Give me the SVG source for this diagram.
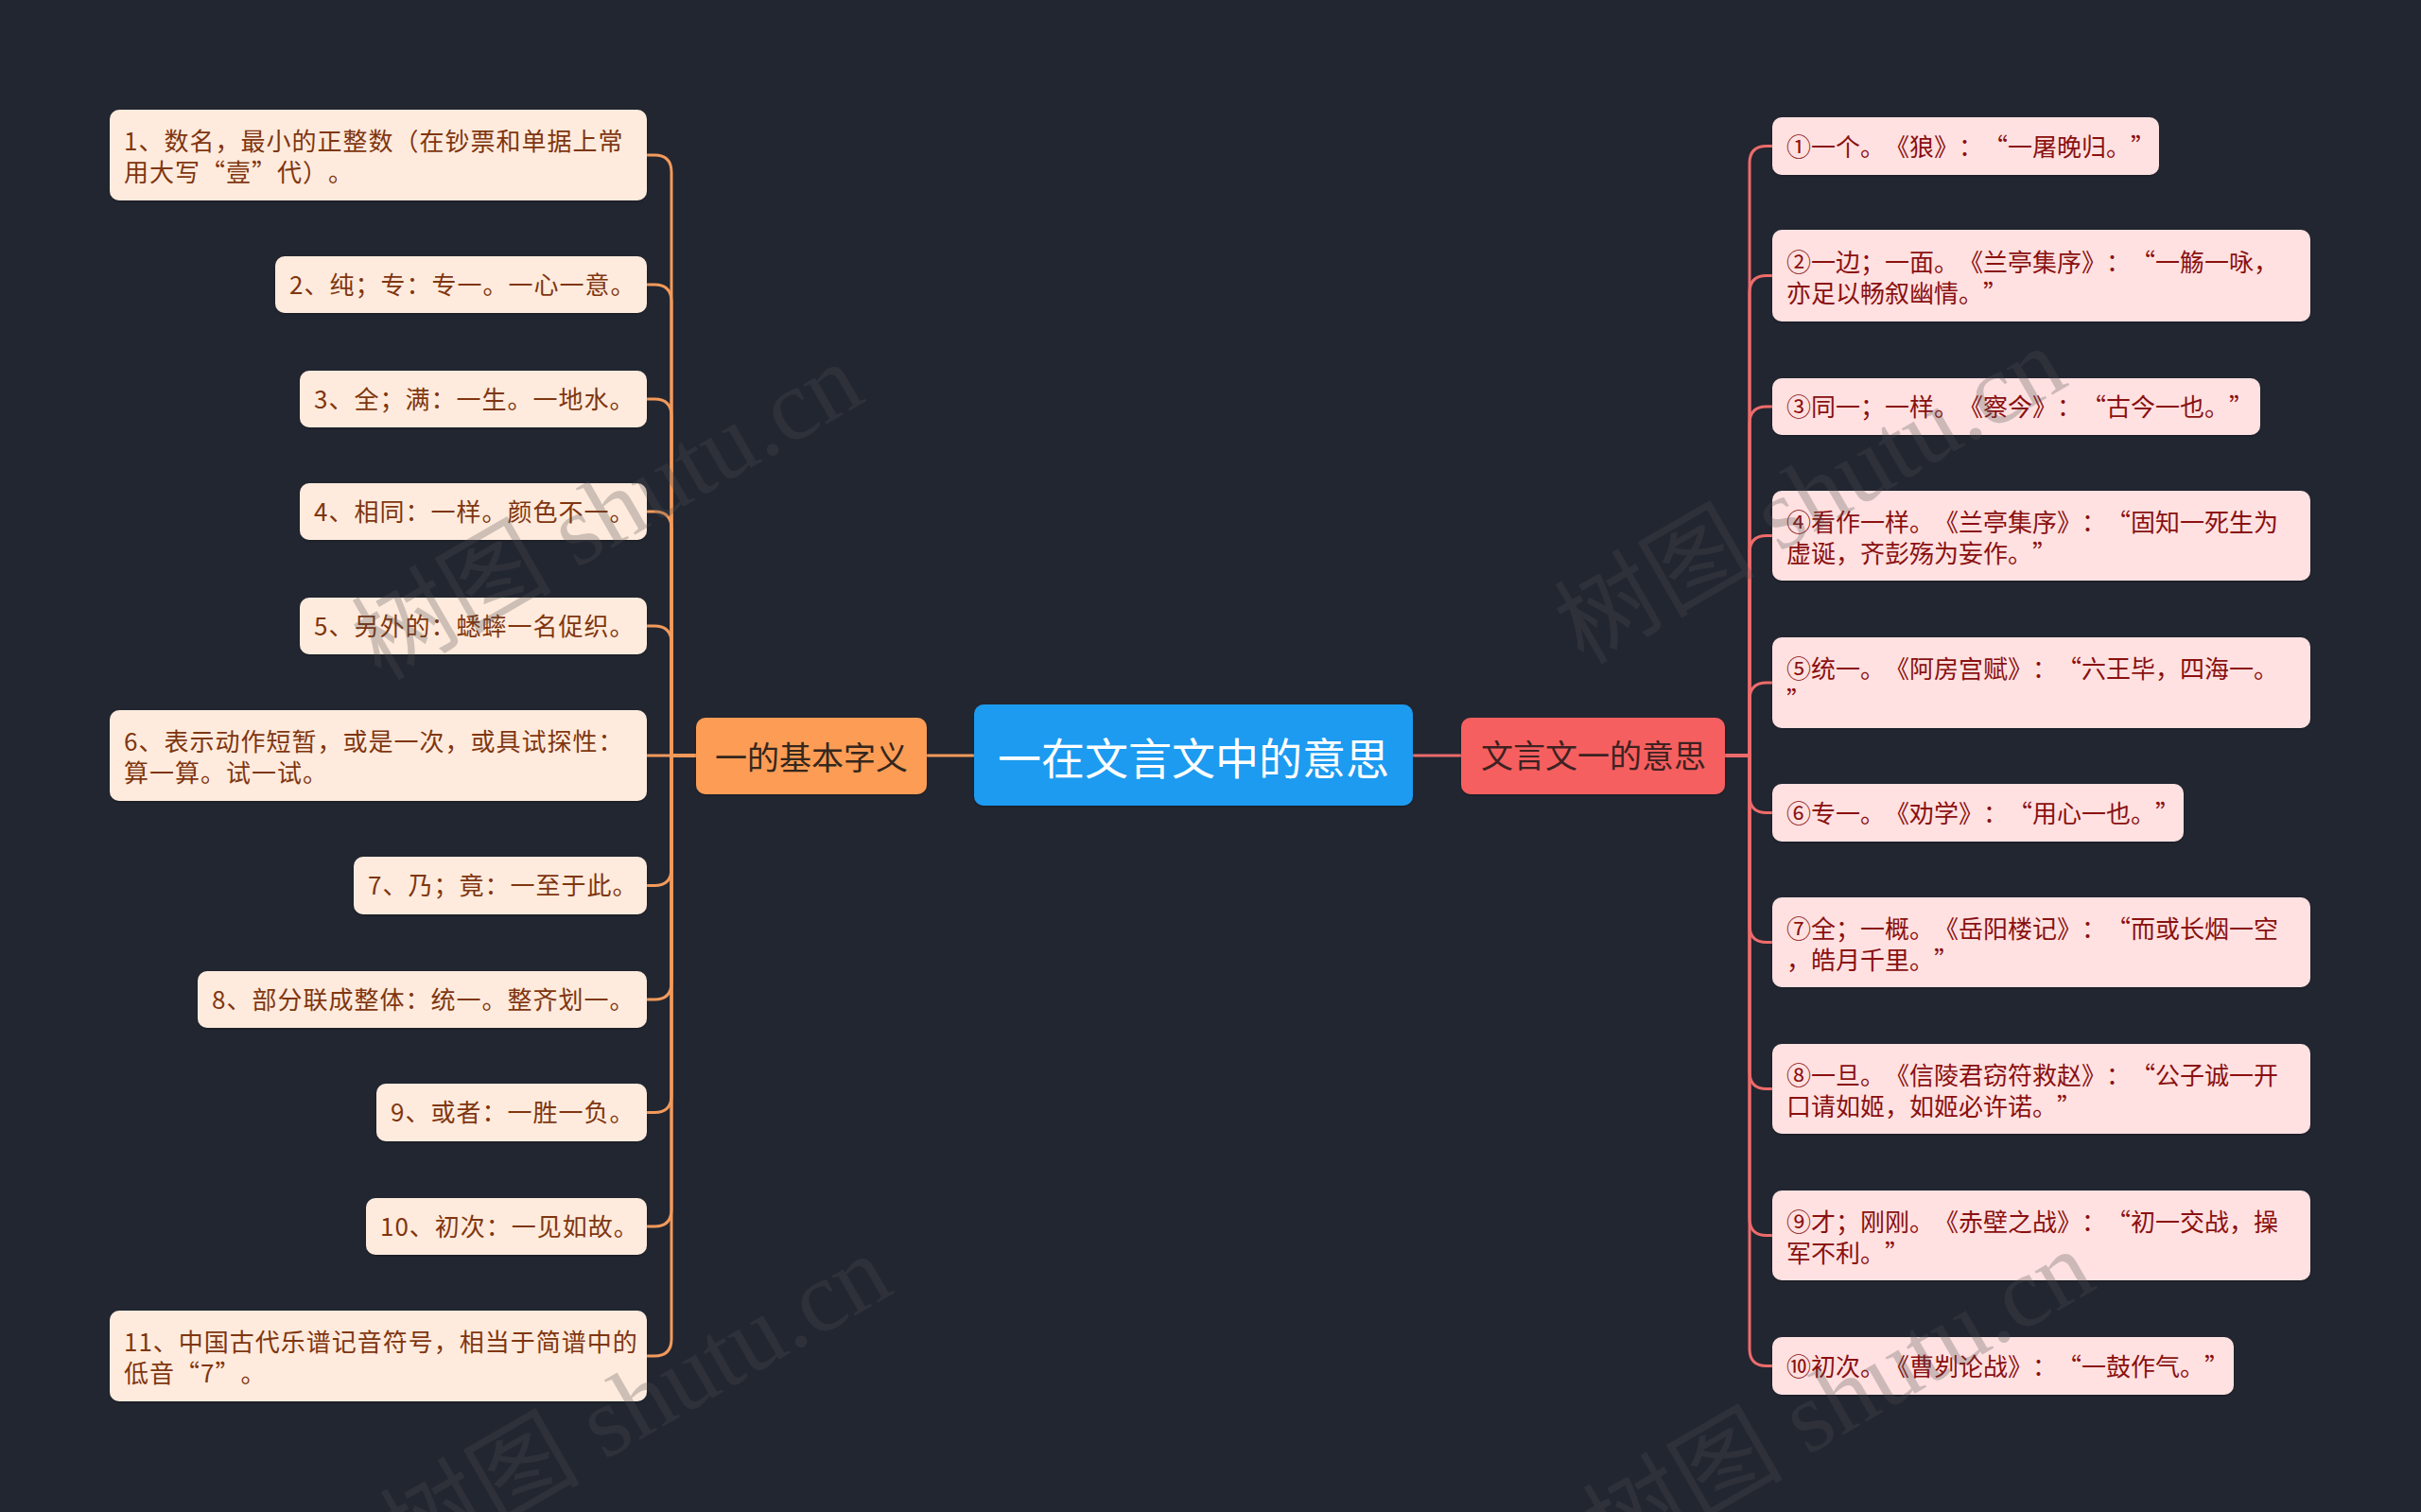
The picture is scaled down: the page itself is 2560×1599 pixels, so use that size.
<svg xmlns="http://www.w3.org/2000/svg" width="2560" height="1599" viewBox="0 0 2560 1599">
<style>
text{text-spacing-trim:space-all}
.lc{fill:#FFEBDD}
.rc{fill:#FFE1E1}
.t{font-family:"Noto Sans CJK SC","Noto Sans",sans-serif;font-size:26px}
.lt{fill:#7F3610;letter-spacing:1px}
.rt{fill:#8A1010;font-feature-settings:"fwid"}
.conL{fill:none;stroke:#F39A5B;stroke-width:3}
.conR{fill:none;stroke:#EE6B6B;stroke-width:3}
.wm{font-family:"Liberation Serif","Noto Sans CJK SC",serif;font-size:106px;fill:#505050;opacity:0.28}
</style>
<defs>
<filter id="sh" x="-5%" y="-10%" width="110%" height="130%">
<feDropShadow dx="0" dy="1" stdDeviation="1" flood-color="#000" flood-opacity="0.35"/>
</filter>
</defs>
<rect x="0" y="0" width="2560" height="1599" fill="#222631"/>
<g id="connectors">
<path class="conL" d="M980,799 H1030"/>
<path class="conR" d="M1494,799 H1545"/>
<path class="conL" d="M736,799 H710 V182 Q710,164 692,164 H684"/>
<path class="conL" d="M736,799 H710 V319 Q710,301 692,301 H684"/>
<path class="conL" d="M736,799 H710 V440 Q710,422 692,422 H684"/>
<path class="conL" d="M736,799 H710 V559 Q710,541 692,541 H684"/>
<path class="conL" d="M736,799 H710 V680 Q710,662 692,662 H684"/>
<path class="conL" d="M736,799 H684"/>
<path class="conL" d="M736,799 H710 V918.5 Q710,936.5 692,936.5 H684"/>
<path class="conL" d="M736,799 H710 V1039 Q710,1057 692,1057 H684"/>
<path class="conL" d="M736,799 H710 V1158.5 Q710,1176.5 692,1176.5 H684"/>
<path class="conL" d="M736,799 H710 V1279 Q710,1297 692,1297 H684"/>
<path class="conL" d="M736,799 H710 V1416 Q710,1434 692,1434 H684"/>
<path class="conR" d="M1824,799 H1850 V172.5 Q1850,154.5 1868,154.5 H1874"/>
<path class="conR" d="M1824,799 H1850 V309.5 Q1850,291.5 1868,291.5 H1874"/>
<path class="conR" d="M1824,799 H1850 V448 Q1850,430 1868,430 H1874"/>
<path class="conR" d="M1824,799 H1850 V584.5 Q1850,566.5 1868,566.5 H1874"/>
<path class="conR" d="M1824,799 H1850 V740 Q1850,722 1868,722 H1874"/>
<path class="conR" d="M1824,799 H1850 V841.5 Q1850,859.5 1868,859.5 H1874"/>
<path class="conR" d="M1824,799 H1850 V978.5 Q1850,996.5 1868,996.5 H1874"/>
<path class="conR" d="M1824,799 H1850 V1133.5 Q1850,1151.5 1868,1151.5 H1874"/>
<path class="conR" d="M1824,799 H1850 V1288.5 Q1850,1306.5 1868,1306.5 H1874"/>
<path class="conR" d="M1824,799 H1850 V1426.5 Q1850,1444.5 1868,1444.5 H1874"/>
</g>
<g id="root">
<rect x="1030" y="745" width="464" height="107" rx="10" fill="#1C9BF0" filter="url(#sh)"/>
<text x="1262" y="819" text-anchor="middle" font-family="Noto Sans CJK SC, sans-serif" font-size="46" fill="#FFFFFF">一在文言文中的意思</text>
</g>
<g id="branch-left">
<rect x="736" y="759" width="244" height="81" rx="10" fill="#FC9C54" filter="url(#sh)"/>
<text x="858" y="814" text-anchor="middle" font-family="Noto Sans CJK SC, sans-serif" font-size="34" fill="#35271D">一的基本字义</text>
</g>
<g id="branch-right">
<rect x="1545" y="759" width="279" height="81" rx="10" fill="#F65F5F" filter="url(#sh)"/>
<text x="1685" y="812" text-anchor="middle" font-family="Noto Sans CJK SC, sans-serif" font-size="34" fill="#3E2222">文言文一的意思</text>
</g>
<g id="l1"><rect class="lc" x="116" y="116" width="568" height="96" rx="10" filter="url(#sh)"/><text class="t lt" x="131" y="159">1、数名，最小的正整数（在钞票和单据上常</text><text class="t lt" x="131" y="192">用大写“壹”代）。</text></g>
<g id="l2"><rect class="lc" x="291" y="271" width="393" height="60" rx="10" filter="url(#sh)"/><text class="t lt" x="306" y="311">2、纯；专：专一。一心一意。</text></g>
<g id="l3"><rect class="lc" x="317" y="392" width="367" height="60" rx="10" filter="url(#sh)"/><text class="t lt" x="332" y="432">3、全；满：一生。一地水。</text></g>
<g id="l4"><rect class="lc" x="317" y="511" width="367" height="60" rx="10" filter="url(#sh)"/><text class="t lt" x="332" y="551">4、相同：一样。颜色不一。</text></g>
<g id="l5"><rect class="lc" x="317" y="632" width="367" height="60" rx="10" filter="url(#sh)"/><text class="t lt" x="332" y="672">5、另外的：蟋蟀一名促织。</text></g>
<g id="l6"><rect class="lc" x="116" y="751" width="568" height="96" rx="10" filter="url(#sh)"/><text class="t lt" x="131" y="794">6、表示动作短暂，或是一次，或具试探性：</text><text class="t lt" x="131" y="827">算一算。试一试。</text></g>
<g id="l7"><rect class="lc" x="374" y="906" width="310" height="61" rx="10" filter="url(#sh)"/><text class="t lt" x="389" y="946">7、乃；竟：一至于此。</text></g>
<g id="l8"><rect class="lc" x="209" y="1027" width="475" height="60" rx="10" filter="url(#sh)"/><text class="t lt" x="224" y="1067">8、部分联成整体：统一。整齐划一。</text></g>
<g id="l9"><rect class="lc" x="398" y="1146" width="286" height="61" rx="10" filter="url(#sh)"/><text class="t lt" x="413" y="1186">9、或者：一胜一负。</text></g>
<g id="l10"><rect class="lc" x="387" y="1267" width="297" height="60" rx="10" filter="url(#sh)"/><text class="t lt" x="402" y="1307">10、初次：一见如故。</text></g>
<g id="l11"><rect class="lc" x="116" y="1386" width="568" height="96" rx="10" filter="url(#sh)"/><text class="t lt" x="131" y="1429">11、中国古代乐谱记音符号，相当于简谱中的</text><text class="t lt" x="131" y="1462">低音“7”。</text></g>
<g id="r1"><rect class="rc" x="1874" y="124" width="409" height="61" rx="10" filter="url(#sh)"/><text class="t rt" x="1889" y="164.5">①一个。《狼》：“一屠晚归。”</text></g>
<g id="r2"><rect class="rc" x="1874" y="243" width="569" height="97" rx="10" filter="url(#sh)"/><text class="t rt" x="1889" y="286.5">②一边；一面。《兰亭集序》：“一觞一咏，</text><text class="t rt" x="1889" y="319.5">亦足以畅叙幽情。”</text></g>
<g id="r3"><rect class="rc" x="1874" y="400" width="516" height="60" rx="10" filter="url(#sh)"/><text class="t rt" x="1889" y="440">③同一；一样。《察今》：“古今一也。”</text></g>
<g id="r4"><rect class="rc" x="1874" y="519" width="569" height="95" rx="10" filter="url(#sh)"/><text class="t rt" x="1889" y="561.5">④看作一样。《兰亭集序》：“固知一死生为</text><text class="t rt" x="1889" y="594.5">虚诞，齐彭殇为妄作。”</text></g>
<g id="r5"><rect class="rc" x="1874" y="674" width="569" height="96" rx="10" filter="url(#sh)"/><text class="t rt" x="1889" y="717">⑤统一。《阿房宫赋》：“六王毕，四海一。</text><text class="t rt" x="1889" y="750">”</text></g>
<g id="r6"><rect class="rc" x="1874" y="829" width="435" height="61" rx="10" filter="url(#sh)"/><text class="t rt" x="1889" y="869.5">⑥专一。《劝学》：“用心一也。”</text></g>
<g id="r7"><rect class="rc" x="1874" y="949" width="569" height="95" rx="10" filter="url(#sh)"/><text class="t rt" x="1889" y="991.5">⑦全；一概。《岳阳楼记》：“而或长烟一空</text><text class="t rt" x="1889" y="1024.5">，皓月千里。”</text></g>
<g id="r8"><rect class="rc" x="1874" y="1104" width="569" height="95" rx="10" filter="url(#sh)"/><text class="t rt" x="1889" y="1146.5">⑧一旦。《信陵君窃符救赵》：“公子诚一开</text><text class="t rt" x="1889" y="1179.5">口请如姬，如姬必许诺。”</text></g>
<g id="r9"><rect class="rc" x="1874" y="1259" width="569" height="95" rx="10" filter="url(#sh)"/><text class="t rt" x="1889" y="1301.5">⑨才；刚刚。《赤壁之战》：“初一交战，操</text><text class="t rt" x="1889" y="1334.5">军不利。”</text></g>
<g id="r10"><rect class="rc" x="1874" y="1414" width="488" height="61" rx="10" filter="url(#sh)"/><text class="t rt" x="1889" y="1454.5">⑩初次。《曹刿论战》：“一鼓作气。”</text></g>
<g id="watermarks">
<text class="wm" text-anchor="middle" transform="translate(660,572) rotate(-30)">树图 shutu.cn</text>
<text class="wm" text-anchor="middle" transform="translate(1932,555) rotate(-30)">树图 shutu.cn</text>
<text class="wm" text-anchor="middle" transform="translate(690,1515) rotate(-30)">树图 shutu.cn</text>
<text class="wm" text-anchor="middle" transform="translate(1962,1510) rotate(-30)">树图 shutu.cn</text>
</g>
</svg>
